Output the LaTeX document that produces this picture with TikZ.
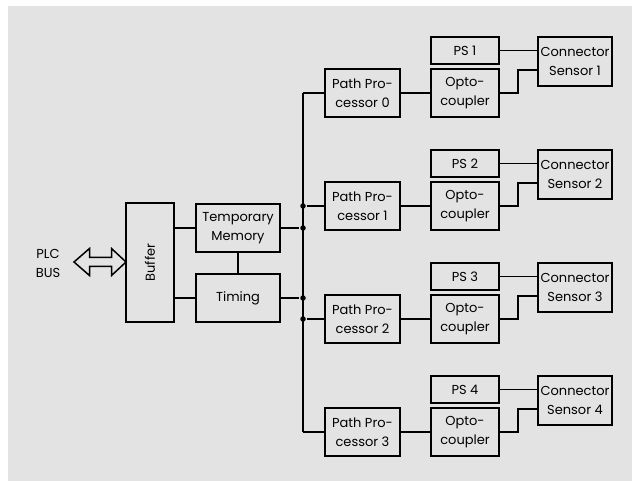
\documentclass[tikz,border=0pt]{standalone}
\usepackage{fontspec}
\setmainfont{Poppins}
\begin{document}
\begin{tikzpicture}[x=1pt,y=-1pt,line width=1.8pt,
  blk/.style={draw=black,line width=1.8pt,align=center,inner sep=0pt,font=\fontsize{13}{19}\selectfont},
  dot/.style={circle,fill=black,inner sep=0pt,minimum size=5.5pt}]
\useasboundingbox (0,0) rectangle (632,481);
\fill[gray!22] (8,6) rectangle (632,481);
% left side
\node[blk,minimum width=48pt,minimum height=119pt] (buf) at (150,262.5) {\rotatebox{90}{Buffer}};
\node[blk,minimum width=84pt,minimum height=48pt] (tm) at (238,228) {Temporary\\Memory};
\node[blk,minimum width=84pt,minimum height=48pt] (tim) at (238,298) {Timing};
\node[align=center,inner sep=0pt,font=\fontsize{13}{19}\selectfont] (plc) at (48,263) {PLC\\BUS};
\draw[line width=1.5pt,line join=miter] (74,262) -- (89.5,248.5) -- (89.5,257.5) -- (111.5,257.5) -- (111.5,248.5) -- (126,262)
  -- (111.5,275.5) -- (111.5,266.5) -- (89.5,266.5) -- (89.5,275.5) -- cycle;
\draw (buf.east |- tm.west) -- (tm.west);
\draw (buf.east |- tim.west) -- (tim.west);
\draw (tm.south) -- (tim.north);
% bus
\coordinate (btop) at (303,93);
\coordinate (bbot) at (303,432);
\draw (btop) -- (bbot);
\node[dot] (dtm) at (tm.east -| btop) {};
\node[dot] (dtim) at (tim.east -| btop) {};
\draw (tm.east) -- (dtm);
\draw (tim.east) -- (dtim);
\foreach \i in {0,1,2,3}{
  \pgfmathsetmacro{\yy}{113*\i}
  \pgfmathtruncatemacro{\n}{\i+1}
  \node[blk,minimum width=75pt,minimum height=48pt] (pp\i) at (362.5,93+\yy) {Path Pro-\\cessor \i};
  \node[blk,minimum width=68pt,minimum height=48pt] (op\i) at (465,93+\yy) {Opto-\\coupler};
  \node[blk,minimum width=68pt,minimum height=27pt] (ps\i) at (465,50.5+\yy) {PS \n};
  \node[blk,minimum width=74pt,minimum height=49pt] (cs\i) at (575,61.5+\yy) {Connector\\Sensor \n};
  \coordinate (k\i) at (518,93+\yy);
  \coordinate (m\i) at (518,70+\yy);
  \draw (pp\i) -- (op\i);
  \draw (ps\i.east) -- (ps\i.east -| cs\i.west);
  \draw (op\i.east) -- (k\i) -- (m\i) -- (m\i -| cs\i.west);
}
\node[dot] (dp1) at (pp1.west -| btop) {};
\node[dot] (dp2) at (pp2.west -| btop) {};
\draw (btop) -- (pp0.west);
\draw (dp1) -- (pp1.west);
\draw (dp2) -- (pp2.west);
\draw (bbot) -- (pp3.west);
\end{tikzpicture}
\end{document}
